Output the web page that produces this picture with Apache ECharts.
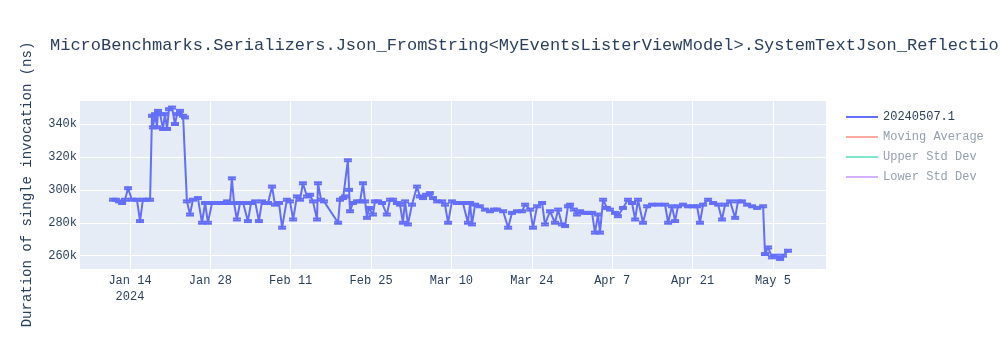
<!DOCTYPE html>
<html>
<head>
<meta charset="utf-8">
<script src="https://cdn.jsdelivr.net/npm/echarts@6/dist/echarts.min.js"></script>
<style>html,body{margin:0;padding:0;background:#fff}#c{width:1000px;height:350px}</style>
</head>
<body>
<div id="c"></div>
<script>
// ---- data ----
const titleText = 'MicroBenchmarks.Serializers.Json_FromString<MyEventsListerViewModel>.SystemTextJson_Reflection_';
const yTitle = 'Duration of single invocation (ns)';
const seriesName = '20240507.1';
const hiddenNames = ['Moving Average', 'Upper Std Dev', 'Lower Std Dev'];

// timestamps (2024, MM-DD HH)
const runDates = [
'01-11 01','01-11 13','01-12 02','01-12 15','01-13 03','01-13 16','01-14 08','01-15 05','01-15 18','01-16 06',
'01-16 23','01-17 12','01-17 20','01-18 00','01-18 09','01-18 17','01-18 21','01-19 06','01-19 18','01-20 02',
'01-20 11','01-20 19','01-21 08','01-21 20','01-22 05','01-22 17','01-23 06','01-23 14','01-23 22','01-24 11',
'01-24 23','01-25 20','01-26 13','01-27 02','01-27 14','01-28 07','01-28 23','01-29 16','01-30 09','01-30 22',
'01-31 10','01-31 18','02-01 03','02-01 15','02-02 04','02-02 17','02-03 13','02-04 02','02-04 19','02-05 11',
'02-06 00','02-06 12','02-07 01','02-07 18','02-08 06','02-08 23','02-09 12','02-10 08','02-10 21','02-11 10',
'02-12 02','02-12 15','02-13 03','02-13 20','02-14 09','02-14 21','02-15 14','02-15 18','02-16 07','02-16 19',
'02-19 06','02-19 14','02-20 03','02-20 11','02-20 23','02-21 04','02-21 08','02-21 20','02-22 13','02-23 02',
'02-23 14','02-23 23','02-24 07','02-24 15','02-25 08','02-25 16','02-26 05','02-26 22','02-27 18','02-28 07',
'02-28 20','02-29 12','03-01 01','03-01 13','03-01 22','03-02 10','03-03 03','03-04 00','03-04 12','03-05 01',
'03-05 14','03-06 06','03-06 19','03-07 12','03-08 09','03-08 21','03-09 10','03-10 02','03-10 23','03-11 12',
'03-12 00','03-12 21','03-13 06','03-13 14','03-14 03','03-14 23','03-15 20','03-16 17','03-17 10','03-17 23',
'03-19 00','03-19 21','03-20 13','03-21 10','03-22 07','03-22 20','03-23 17','03-24 05','03-24 22','03-25 19',
'03-26 07','03-27 04','03-28 01','03-28 14','03-29 06','03-29 19','03-30 07','03-30 16','03-31 08','03-31 21',
'04-01 10','04-02 06','04-02 19','04-03 12','04-04 00','04-04 13','04-04 21','04-05 10','04-06 02','04-06 15',
'04-07 12','04-08 00','04-08 21','04-09 18','04-10 11','04-11 00','04-11 12','04-12 09','04-13 02','04-13 23',
'04-15 00','04-16 05','04-16 18','04-17 10','04-17 23','04-18 11','04-19 08','04-20 05','04-21 02','04-21 19',
'04-22 07','04-22 20','04-23 17','04-24 14','04-25 11','04-26 03','04-26 16','04-27 13','04-28 10','04-28 22',
'04-29 15','04-30 12','05-01 09','05-02 06','05-03 07','05-03 15','05-04 04','05-04 20','05-05 09','05-06 06',
'05-06 18','05-07 15'
];
// duration in thousands of ns
const durationK = [
294,294,293,292,294,301,294,294,281,294,
294,294,345,338,346,338,348,346,337,346,
337,349,350,340,346,348,345,344,293,285,
294,295,280,292,280,292,292,292,292,293,
292,307,292,282,292,292,281,292,293,281,
293,292,292,302,291,292,277,294,293,282,
296,294,304,296,297,293,282,304,294,293,
280,294,295,296,318,300,287,292,293,293,
304,293,283,289,285,293,293,292,285,294,
294,292,291,280,293,279,291,302,296,295,
297,298,295,293,293,291,280,293,292,292,
292,280,292,279,291,290,288,287,288,288,
287,277,286,287,287,291,288,277,290,292,
279,287,280,288,279,278,290,291,288,285,
287,286,286,286,274,285,274,294,289,288,
286,284,289,294,292,282,294,280,290,291,
291,291,280,290,281,290,291,290,290,290,
280,291,294,292,291,282,291,293,283,293,
293,291,290,289,290,261,265,259,260,258,
260,263
];
const errK = 0.6; // approximate error-bar half size (thousands of ns)

const xTickDates = ['2024-01-14','2024-01-28','2024-02-11','2024-02-25','2024-03-10','2024-03-24','2024-04-07','2024-04-21','2024-05-05'];
const xTickLabels = ['Jan 14\n2024','Jan 28','Feb 11','Feb 25','Mar 10','Mar 24','Apr 7','Apr 21','May 5'];
const xRange = ['2024-01-05 07:00', '2024-05-14 06:00'];
const yRange = [251900, 354600];

// ---- build ----
const FONT = '"Liberation Mono", "Courier New", monospace';
const TXT = '#2a3f5f';
const C = '#636efa';
const ts = d => '2024-' + d + ':00';
const lineData = runDates.map((d, i) => [ts(d), durationK[i] * 1000]);
const errData = runDates.map((d, i) => [ts(d), durationK[i] * 1000, (durationK[i] - errK) * 1000, (durationK[i] + errK) * 1000]);

const chart = echarts.init(document.getElementById('c'), null, {renderer: 'canvas'});
chart.setOption({
  animation: false,
  backgroundColor: '#fff',
  title: {
    text: titleText, left: 50, top: 37, padding: 0,
    textStyle: {fontFamily: FONT, fontSize: 17, fontWeight: 'normal', color: TXT}
  },
  grid: {left: 80, right: 174, top: 100, bottom: 81, show: true, backgroundColor: '#e5ecf6', borderWidth: 0, containLabel: false},
  legend: {
    orient: 'vertical', left: 845, top: 111, padding: 0, itemWidth: 32, itemHeight: 12, itemGap: 8,
    itemStyle: {opacity: 0},
    textStyle: {fontFamily: FONT, fontSize: 12, color: TXT},
    data: [
      {name: seriesName},
      {name: hiddenNames[0], textStyle: {color: '#95a0af'}},
      {name: hiddenNames[1], textStyle: {color: '#95a0af'}},
      {name: hiddenNames[2], textStyle: {color: '#95a0af'}}
    ]
  },
  xAxis: {
    type: 'time', min: xRange[0], max: xRange[1],
    axisLine: {show: false}, axisTick: {show: false}, axisLabel: {show: false}, splitLine: {show: false}
  },
  yAxis: {
    type: 'value', min: yRange[0], max: yRange[1], splitNumber: 5,
    axisLine: {show: false}, axisTick: {show: false},
    axisLabel: {showMinLabel: false, showMaxLabel: false, margin: 3, fontFamily: FONT, fontSize: 12, color: TXT,
      formatter: v => (v / 1000) + 'k'},
    splitLine: {lineStyle: {color: '#fff', width: 1}},
    name: yTitle, nameLocation: 'middle', nameRotate: 90, nameGap: 46,
    nameTextStyle: {fontFamily: FONT, fontSize: 14, color: TXT}
  },
  series: [
    {
      name: seriesName, type: 'line', data: lineData, z: 3,
      symbol: 'none', showSymbol: false,
      lineStyle: {color: C, width: 2}, itemStyle: {color: C},
      markLine: {
        silent: true, z: 1, symbol: ['none', 'none'], animation: false,
        lineStyle: {color: '#fff', width: 1, type: 'solid'},
        label: {show: true, position: 'start', distance: 4, formatter: '{b}', fontFamily: FONT, fontSize: 12, color: TXT, lineHeight: 16},
        emphasis: {disabled: true},
        data: xTickDates.map((d, i) => ({name: xTickLabels[i], xAxis: d}))
      }
    },
    {
      name: 'err', type: 'custom', data: errData, z: 3,
      encode: {x: 0, y: [2, 3]},
      renderItem: function (params, api) {
        const x = api.value(0);
        const lo = api.coord([x, api.value(2)]);
        const hi = api.coord([x, api.value(3)]);
        const w = 4;
        const st = {stroke: C, lineWidth: 2};
        return {type: 'group', children: [
          {type: 'line', shape: {x1: lo[0], y1: lo[1], x2: hi[0], y2: hi[1]}, style: st},
          {type: 'line', shape: {x1: lo[0] - w, y1: lo[1], x2: lo[0] + w, y2: lo[1]}, style: st},
          {type: 'line', shape: {x1: hi[0] - w, y1: hi[1], x2: hi[0] + w, y2: hi[1]}, style: st}
        ]};
      }
    },
    {name: hiddenNames[0], type: 'line', data: [], symbol: 'none', lineStyle: {color: '#f7aa9d', width: 2}, itemStyle: {color: '#f7aa9d'}},
    {name: hiddenNames[1], type: 'line', data: [], symbol: 'none', lineStyle: {color: '#80e6cb', width: 2}, itemStyle: {color: '#80e6cb'}},
    {name: hiddenNames[2], type: 'line', data: [], symbol: 'none', lineStyle: {color: '#d5b1fd', width: 2}, itemStyle: {color: '#d5b1fd'}}
  ]
});
</script>
</body>
</html>
